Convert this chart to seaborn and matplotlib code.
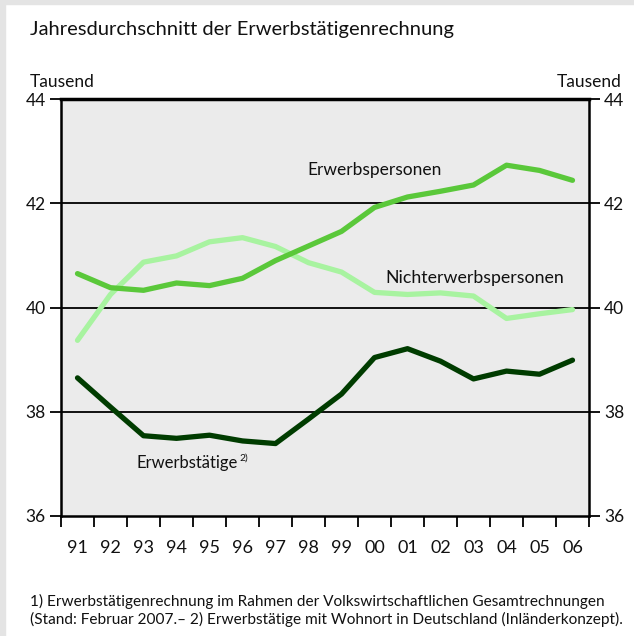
import matplotlib
matplotlib.use("Agg")
import matplotlib.pyplot as plt
import seaborn as sns
import pandas as pd
import numpy as np
from matplotlib.patches import Rectangle

years = ["91", "92", "93", "94", "95", "96", "97", "98", "99", "00", "01", "02", "03", "04", "05", "06"]
erwerbspersonen = [40.65, 40.38, 40.33, 40.47, 40.42, 40.56, 40.90, 41.18, 41.46, 41.92, 42.12, 42.23, 42.35, 42.73, 42.63, 42.44]
nichterwerbspersonen = [39.37, 40.25, 40.87, 40.99, 41.26, 41.34, 41.17, 40.86, 40.68, 40.29, 40.25, 40.28, 40.22, 39.79, 39.88, 39.96]
erwerbstaetige = [38.65, 38.09, 37.54, 37.49, 37.55, 37.44, 37.39, 37.86, 38.34, 39.04, 39.21, 38.97, 38.63, 38.78, 38.72, 38.99]
yticks = [36, 38, 40, 42, 44]

series = {"Nichterwerbspersonen": nichterwerbspersonen,
          "Erwerbspersonen": erwerbspersonen,
          "Erwerbstätige": erwerbstaetige}
rows = []
for name, vals in series.items():
    for i, v in enumerate(vals):
        rows.append({"x": i, "wert": v, "reihe": name})
df = pd.DataFrame(rows)

palette = {"Nichterwerbspersonen": "#a8f3a0",
           "Erwerbspersonen": "#5ac83a",
           "Erwerbstätige": "#003c00"}

sns.set_style("white")
plt.rcParams["font.family"] = ["Lato", "DejaVu Sans"]

W, H = 634, 636
fig = plt.figure(figsize=(W / 100, H / 100), dpi=100)
fig.patch.set_facecolor("white")
# grey frame on left and top
fig.add_artist(Rectangle((0, 0), 5 / W, 1, transform=fig.transFigure, color="#e4e4e4", zorder=0))
fig.add_artist(Rectangle((0, 1 - 4 / H), 1, 4 / H, transform=fig.transFigure, color="#e4e4e4", zorder=0))

left, right, top, bottom = 61 / W, 589 / W, 1 - 99 / H, 1 - 516 / H
ax = fig.add_axes([left, bottom, right - left, top - bottom])
ax.set_facecolor("#ebebeb")

sns.lineplot(data=df, x="x", y="wert", hue="reihe", palette=palette, linewidth=3.8,
             legend=False, ax=ax, solid_capstyle="round", solid_joinstyle="round")

ax.set_xlim(-0.5, 15.5)
ax.set_ylim(36, 44)
for g in [38, 40, 42]:
    ax.axhline(g, color="black", linewidth=1.3, zorder=1)

ax.set_xlabel("")
ax.set_ylabel("")
ax.set_xticks(np.arange(-0.5, 16, 1.0))
ax.set_xticklabels([])
ax.set_xticks(np.arange(16), minor=True)
ax.set_xticklabels(years, minor=True)
ax.tick_params(axis="x", which="major", direction="out", length=8, width=1.3, color="black", bottom=True)
ax.tick_params(axis="x", which="minor", length=0, pad=17, labelsize=13, labelcolor="#111111")

ax.set_yticks(yticks)
ax.set_yticklabels([str(t) for t in yticks])
ax.tick_params(axis="y", direction="out", length=8, width=1.3, color="black", left=True, right=True,
               labelleft=True, labelright=True, labelsize=12.5, pad=3, labelcolor="#111111")

for s in ["left", "right", "bottom"]:
    ax.spines[s].set_visible(True)
    ax.spines[s].set_color("black")
    ax.spines[s].set_linewidth(1.8)
ax.spines["top"].set_visible(True)
ax.spines["top"].set_color("black")
ax.spines["top"].set_linewidth(2.5)

def fx(px):
    return px / W

def fy(py):
    return 1 - py / H

fig.text(fx(30), fy(30), "Jahresdurchschnitt der Erwerbstätigenrechnung", fontsize=14.5,
         ha="left", va="center", color="#111111")
fig.text(fx(30), fy(82), "Tausend", fontsize=12.5, ha="left", va="center", color="#111111")
fig.text(fx(622), fy(82), "Tausend", fontsize=12.5, ha="right", va="center", color="#111111")

fig.text(fx(375), fy(170), "Erwerbspersonen", fontsize=12.5, ha="center", va="center", color="#111111")
fig.text(fx(475), fy(278), "Nichterwerbspersonen", fontsize=12.8, ha="center", va="center", color="#111111")
t = fig.text(fx(137), fy(463), "Erwerbstätige", fontsize=12, ha="left", va="center", color="#111111")
ax.annotate("2)", xy=(1, 0.8), xycoords=t, xytext=(1, 0), textcoords="offset points",
            fontsize=7.5, ha="left", va="center", color="#111111", annotation_clip=False)

fig.text(fx(30), fy(601), "1) Erwerbstätigenrechnung im Rahmen der Volkswirtschaftlichen Gesamtrechnungen",
         fontsize=11.1, ha="left", va="center", color="#111111")
fig.text(fx(30), fy(619), "(Stand: Februar 2007.– 2) Erwerbstätige mit Wohnort in Deutschland (Inländerkonzept).",
         fontsize=11.1, ha="left", va="center", color="#111111")

fig.savefig("out.png", dpi=100)
